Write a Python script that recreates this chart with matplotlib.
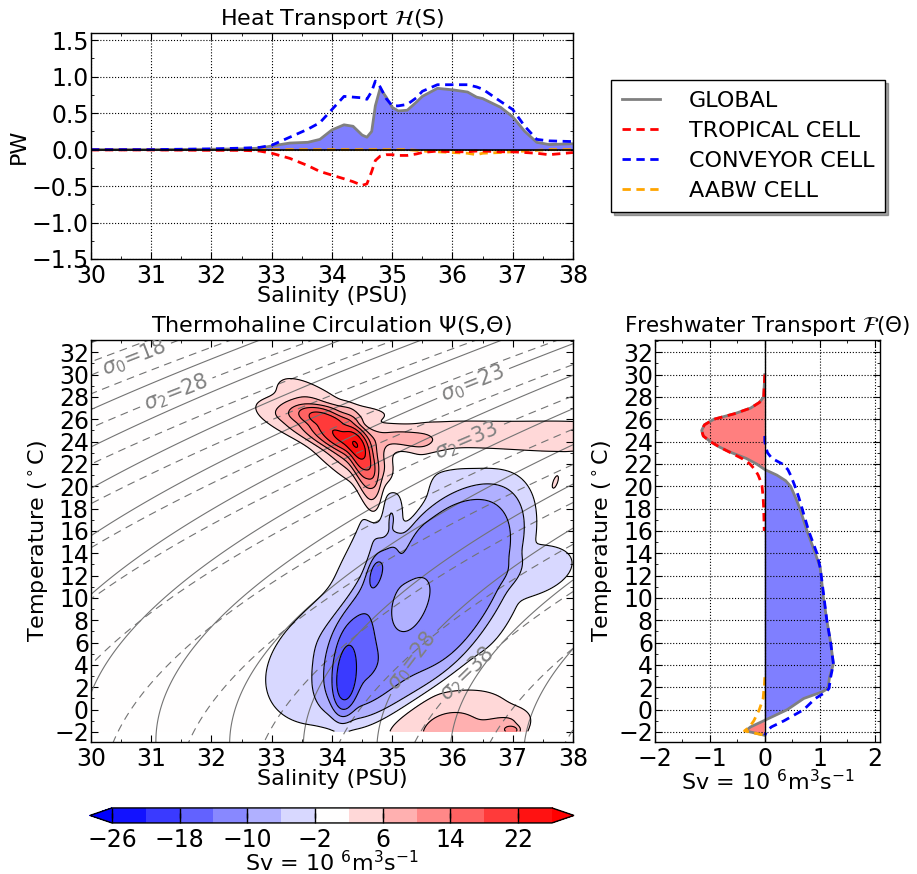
import numpy as np
import matplotlib
matplotlib.use('Agg')
import matplotlib.pyplot as plt
from matplotlib.ticker import AutoMinorLocator

# ---- heat transport H(S), PW ----
heat_S = [30.0, 31.0, 32.0, 32.5, 32.8, 33.0, 33.3, 33.6, 33.8, 34.0, 34.2, 34.35,
          34.5, 34.58, 34.66, 34.72, 34.8, 34.9, 35.0, 35.1, 35.25, 35.4, 35.5,
          35.75, 36.0, 36.25, 36.4, 36.5, 36.8, 37.0, 37.2, 37.4, 37.6, 38.0]
heat_global = [0.0, 0.0, 0.005, 0.01, 0.02, 0.05, 0.09, 0.10, 0.14, 0.27, 0.34, 0.32,
               0.20, 0.17, 0.25, 0.60, 0.84, 0.72, 0.58, 0.53, 0.54, 0.65, 0.73,
               0.84, 0.82, 0.79, 0.72, 0.70, 0.58, 0.45, 0.25, 0.10, 0.07, 0.08]
heat_tropical = [-0.005, -0.005, -0.01, -0.01, -0.02, -0.05, -0.12, -0.22, -0.30, -0.35, -0.40, -0.44,
                 -0.49, -0.47, -0.30, -0.15, -0.09, -0.07, -0.07, -0.08, -0.08, -0.06, -0.04,
                 -0.02, -0.03, -0.03, -0.02, -0.02, -0.03, -0.03, -0.04, -0.05, -0.07, -0.04]
heat_conveyor = [0.0, 0.0, 0.01, 0.02, 0.03, 0.06, 0.17, 0.28, 0.37, 0.55, 0.73, 0.72,
                 0.71, 0.69, 0.80, 0.94, 0.86, 0.70, 0.60, 0.60, 0.62, 0.71, 0.80,
                 0.89, 0.89, 0.89, 0.86, 0.83, 0.66, 0.55, 0.32, 0.14, 0.12, 0.11]
heat_aabw = [0.0, 0.0, 0.0, 0.0, 0.0, 0.0, 0.0, 0.0, 0.0, 0.0, 0.0, 0.0,
             0.0, 0.0, 0.0, 0.0, 0.0, 0.0, 0.0, 0.0, 0.0, -0.01, -0.02,
             -0.03, -0.04, -0.05, -0.07, -0.05, -0.04, -0.03, -0.02, -0.01, 0.0, 0.0]

# ---- freshwater transport F(Theta), Sv ----
fw_T = [30, 28, 27.5, 27, 26.5, 26, 25.5, 25, 24.5, 24, 23.5, 23, 22.5, 22, 21.5,
        21, 20.5, 20, 19, 18, 16, 14, 12.7, 10, 8, 6, 4.1, 2.9, 1.9, 1.6, 1.0,
        0.0, -1.0, -1.55, -1.9, -2.3]
fw_global = [0.0, -0.02, -0.10, -0.26, -0.55, -0.93, -1.10, -1.15, -1.12, -0.99, -0.82, -0.60, -0.34, -0.15, 0.0,
             0.22, 0.38, 0.47, 0.56, 0.64, 0.77, 0.92, 1.01, 1.07, 1.13, 1.20, 1.25, 1.18, 1.15, 1.05, 0.71,
             0.41, -0.02, -0.26, -0.35, 0.0]
fw_tropical = [0.0, -0.02, -0.10, -0.26, -0.55, -0.93, -1.10, -1.15, -1.12, -0.99, -0.82, -0.62, -0.42, -0.27, -0.18,
               -0.12, -0.08, -0.05, -0.03, -0.02, -0.01, np.nan, np.nan, np.nan, np.nan, np.nan, np.nan, np.nan, np.nan, np.nan, np.nan,
               np.nan, np.nan, np.nan, np.nan, np.nan]
fw_conveyor = [np.nan, np.nan, np.nan, np.nan, np.nan, np.nan, np.nan, np.nan, 0.0, 0.0, 0.02, 0.05, 0.13, 0.32, 0.42,
               0.47, 0.51, 0.55, 0.62, 0.68, 0.80, 0.95, 1.01, 1.08, 1.13, 1.20, 1.25, 1.20, 1.17, 1.12, 0.92,
               0.71, 0.35, 0.12, 0.04, 0.0]
fw_aabw = [np.nan, np.nan, np.nan, np.nan, np.nan, np.nan, np.nan, np.nan, np.nan, np.nan, np.nan, np.nan, np.nan, np.nan, np.nan,
           np.nan, np.nan, np.nan, np.nan, np.nan, np.nan, np.nan, np.nan, np.nan, np.nan, np.nan, np.nan, 0.0, -0.01, -0.02, -0.03,
           -0.10, -0.20, -0.28, -0.37, 0.0]

# ---- overturning streamfunction Psi(S,Theta): cells ----
# centre S, centre Theta, strength (Sv), half-extents (screen px), tilt (deg), edge sharpness
#          tropical cell ....................................................  conveyor cell ..........................................  AABW cell ......
cell_S = [33.75, 34.2, 34.58, 34.1, 35.2, 35.8, 36.6, 37.4, 38.2, 37.7,
          35.52, 35.59, 33.95, 37.5, 34.22, 35.25, 34.9, 35.25, 34.7,
          35.95, 36.85, 37.0]
cell_T = [25.4, 24.1, 21.0, 26.5, 24.2, 24.6, 24.5, 24.4, 24.5, 20.3,
          9.55, 10.97, 4.0, 12.5, 2.5, 9.0, 17.0, 17.0, 12.5,
          -1.94, -1.5, -1.85]
cell_amp = [6, 17, 8, 3, 7, 3.2, 3.2, 3.2, 3.2, 3,
            -8, -4, -4.5, -3, -7, 4, -5, 3, -4,
            8, 5, 8]
cell_major = [52, 42, 45, 45, 22, 35, 35, 35, 35, 12,
              137, 123, 60, 30, 30, 30, 42, 40, 12,
              42, 15, 5]
cell_minor = [15, 14, 9, 8, 8, 11, 11, 11, 11, 4,
              61, 80, 45, 18, 9.2, 14, 11, 7, 5,
              32, 8, 3]
cell_angle = [-18, -42, -75, 0, -10, 0, 0, 0, 0, 70,
              52, 55, 35, 20, 85, 60, 79, 78, 80,
              0, 20, 0]
cell_power = [4, 2, 3, 4, 2, 2, 2, 2, 2, 2,
              12, 4, 4, 4, 3, 2, 2, 2, 2,
              2, 2, 2]

psi_levels = np.arange(-26, 27, 4)
cbar_ticks = [-26, -18, -10, -2, 6, 14, 22]
sigma0_labels = [18, 23, 28]
sigma2_labels = [28, 33, 38]


def sigma(S, T, p):
    # UNESCO 1980 equation of state, p in bar
    T2, T3, T4, T5 = T**2, T**3, T**4, T**5
    rw = (999.842594 + 6.793952e-2*T - 9.095290e-3*T2 + 1.001685e-4*T3
          - 1.120083e-6*T4 + 6.536332e-9*T5)
    s15 = S**1.5
    r0 = (rw + S*(0.824493 - 4.0899e-3*T + 7.6438e-5*T2 - 8.2467e-7*T3 + 5.3875e-9*T4)
          + s15*(-5.72466e-3 + 1.0227e-4*T - 1.6546e-6*T2) + 4.8314e-4*S**2)
    kw = 19652.21 + 148.4206*T - 2.327105*T2 + 1.360477e-2*T3 - 5.155288e-5*T4
    aw = 3.239908 + 1.43713e-3*T + 1.16092e-4*T2 - 5.77905e-7*T3
    bw = 8.50935e-5 - 6.12293e-6*T + 5.2787e-8*T2
    k0 = (kw + S*(54.6746 - 0.603459*T + 1.09987e-2*T2 - 6.1670e-5*T3)
          + s15*(7.944e-2 + 1.6483e-2*T - 5.3009e-4*T2))
    a = aw + S*(2.2838e-3 - 1.0981e-5*T - 1.6078e-6*T2) + 1.91075e-4*s15
    b = bw + S*(-9.9348e-7 + 2.0816e-8*T + 9.1697e-10*T2)
    k = k0 + a*p + b*p**2
    return r0/(1 - p/k) - 1000.0


S_grid = np.linspace(30, 38, 401)
T_grid = np.linspace(-1.94, 33, 350)
SS, TT = np.meshgrid(S_grid, T_grid)
psi = np.zeros_like(SS)
for s0, t0, amp, a, b, ang, pw in zip(cell_S, cell_T, cell_amp, cell_major,
                                      cell_minor, cell_angle, cell_power):
    x = (SS - s0)*60.25
    y = (TT - t0)*11.18
    th = np.radians(ang)
    u = x*np.cos(th) + y*np.sin(th)
    v = -x*np.sin(th) + y*np.cos(th)
    r = np.sqrt((u/a)**2 + (v/b)**2)
    psi += amp*np.exp(-0.5*r**pw)

S_d = np.linspace(30, 38, 200)
T_d = np.linspace(-3, 34, 200)
SD, TD = np.meshgrid(S_d, T_d)
sig0 = sigma(SD, TD, 0.0)
sig2 = sigma(SD, TD, 200.0)

plt.rcParams.update({
    'font.family': 'DejaVu Sans',
    'font.size': 16,
    'xtick.direction': 'in', 'ytick.direction': 'in',
    'xtick.top': True, 'ytick.right': True,
    'xtick.major.size': 5, 'ytick.major.size': 5,
    'xtick.minor.size': 2.5, 'ytick.minor.size': 2.5,
    'xtick.labelsize': 17, 'ytick.labelsize': 17,
    'ytick.major.pad': 1.5,
    'axes.linewidth': 1.0,
})

fig = plt.figure(figsize=(9.17, 8.74), dpi=100)
ax_h = fig.add_axes([0.0992, 0.7037, 0.5256, 0.2586])
ax_p = fig.add_axes([0.0992, 0.1510, 0.5256, 0.4600])
ax_f = fig.add_axes([0.7143, 0.1510, 0.2454, 0.4600])
cax = fig.add_axes([0.0981, 0.0584, 0.5278, 0.0172])

dash = (0, (3, 2))

# heat transport
hg = np.array(heat_global)
ax_h.fill_between(heat_S, 0, hg, where=hg >= 0, color='blue', alpha=0.5, lw=0, interpolate=True)
l1, = ax_h.plot(heat_S, heat_global, color='gray', lw=2, label='GLOBAL')
l4, = ax_h.plot(heat_S, heat_aabw, color='orange', lw=2, ls=dash, label='AABW CELL')
l2, = ax_h.plot(heat_S, heat_tropical, color='red', lw=2, ls=dash, label='TROPICAL CELL')
l3, = ax_h.plot(heat_S, heat_conveyor, color='blue', lw=2, ls=dash, label='CONVEYOR CELL')
ax_h.axhline(0, color='k', lw=1.2)
ax_h.set_xlim(30, 38)
ax_h.set_ylim(-1.5, 1.6)
ax_h.set_xticks(np.arange(30, 39, 1))
ax_h.set_yticks(np.arange(-1.5, 1.51, 0.5))
ax_h.xaxis.set_minor_locator(AutoMinorLocator(2))
ax_h.yaxis.set_minor_locator(AutoMinorLocator(2))
ax_h.grid(True, linestyle=':', color='k', lw=0.8)
ax_h.set_title(r'Heat Transport $\mathcal{H}$(S)', fontsize=16)
ax_h.set_xlabel('Salinity (PSU)', fontsize=16, labelpad=-1)
ax_h.set_ylabel('PW', fontsize=16, labelpad=2)

fig.legend([l1, l2, l3, l4], ['GLOBAL', 'TROPICAL CELL', 'CONVEYOR CELL', 'AABW CELL'],
           loc='upper left', bbox_to_anchor=(0.6663, 0.9085), borderaxespad=0,
           shadow=True, fancybox=False, fontsize=16, handlelength=1.7,
           handletextpad=1.3, labelspacing=0.45, borderpad=0.5, framealpha=1,
           edgecolor='k')

# thermohaline streamfunction
cf = ax_p.contourf(S_grid, T_grid, psi, levels=psi_levels, cmap='bwr', extend='both')
lev0 = [v for v in range(10, 36) if v not in sigma0_labels]
lev2 = [v for v in range(15, 45) if v not in sigma2_labels]
dashed = [(0, (7, 5))]
ax_p.contour(S_d, T_d, sig0, levels=lev0, colors='0.45', linewidths=0.8, linestyles='solid')
ax_p.contour(S_d, T_d, sig2, levels=lev2, colors='0.45', linewidths=0.8, linestyles=dashed)
c0 = ax_p.contour(S_d, T_d, sig0, levels=sigma0_labels, colors='0.45', linewidths=0.8,
                  linestyles='solid')
c2 = ax_p.contour(S_d, T_d, sig2, levels=sigma2_labels, colors='0.45', linewidths=0.8,
                  linestyles=dashed)
ax_p.contour(S_grid, T_grid, psi, levels=psi_levels, colors='k', linewidths=0.8,
             negative_linestyles='solid')
ax_p.clabel(c0, fmt={v: r'$\sigma_0$=%d' % v for v in sigma0_labels},
            manual=[(30.7, 31.9), (36.34, 29.25), (35.3, 4.5)], inline=True, fontsize=15,
            colors='0.5')
ax_p.clabel(c2, fmt={v: r'$\sigma_2$=%d' % v for v in sigma2_labels},
            manual=[(31.43, 28.2), (36.24, 23.9), (36.2, 3.5)], inline=True, fontsize=15,
            colors='0.5')
ax_p.set_xlim(30, 38)
ax_p.set_ylim(-2.9, 33.1)
ax_p.set_xticks(np.arange(30, 39, 1))
ax_p.set_yticks(np.arange(-2, 33, 2))
ax_p.xaxis.set_minor_locator(AutoMinorLocator(2))
ax_p.yaxis.set_minor_locator(AutoMinorLocator(2))
ax_p.set_title(r'Thermohaline Circulation $\Psi$(S,$\Theta$)', fontsize=16)
ax_p.set_xlabel('Salinity (PSU)', fontsize=16, labelpad=-1)
ax_p.set_ylabel(r'Temperature ($^\circ$C)', fontsize=16, labelpad=2)

# freshwater transport
fg = np.array(fw_global)
ax_f.fill_betweenx(fw_T, 0, fg, where=fg >= 0, color='blue', alpha=0.5, lw=0, interpolate=True)
ax_f.fill_betweenx(fw_T, 0, fg, where=fg <= 0, color='red', alpha=0.5, lw=0, interpolate=True)
ax_f.plot(fw_global, fw_T, color='gray', lw=2)
ax_f.plot(fw_aabw, fw_T, color='orange', lw=2, ls=dash)
ax_f.plot(fw_tropical, fw_T, color='red', lw=2, ls=dash)
ax_f.plot(fw_conveyor, fw_T, color='blue', lw=2, ls=dash)
ax_f.axvline(0, color='k', lw=1)
ax_f.set_xlim(-2, 2.1)
ax_f.set_ylim(-2.9, 33.1)
ax_f.set_xticks([-2, -1, 0, 1, 2])
ax_f.set_yticks(np.arange(-2, 33, 2))
ax_f.xaxis.set_minor_locator(AutoMinorLocator(2))
ax_f.yaxis.set_minor_locator(AutoMinorLocator(2))
ax_f.grid(True, linestyle=':', color='k', lw=0.8)
ax_f.set_title(r'Freshwater Transport $\mathcal{F}(\Theta)$', fontsize=15.5)
ax_f.set_xlabel(r'Sv = 10 $^6$m$^3$s$^{-1}$', fontsize=16, labelpad=-1)
ax_f.set_ylabel(r'Temperature ($^\circ$C)', fontsize=16, labelpad=2)

# colorbar
cb = fig.colorbar(cf, cax=cax, orientation='horizontal', ticks=cbar_ticks)
cax.tick_params(direction='in', length=7, top=True, bottom=True, width=1, labelsize=17)
cb.set_label(r'Sv = 10 $^6$m$^3$s$^{-1}$', fontsize=16, labelpad=-1)

fig.savefig('out.png', dpi=100)
